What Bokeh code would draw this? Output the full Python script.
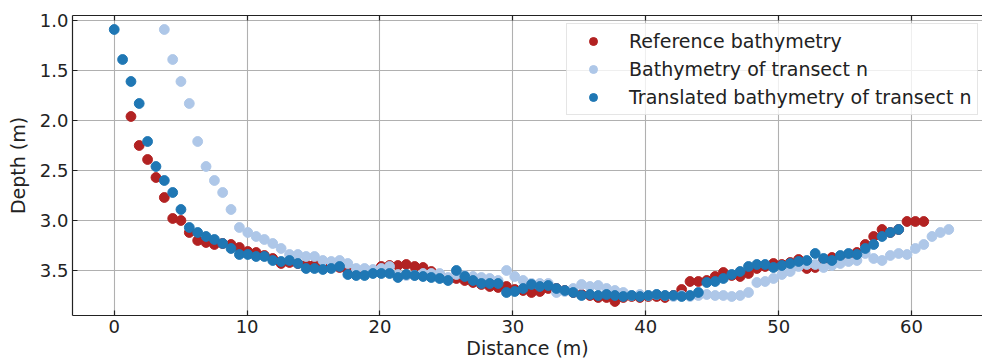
from bokeh.plotting import figure
from bokeh.models import (Range1d, LinearAxis, SingleIntervalTicker,
                          PrintfTickFormatter, Legend, LegendItem)
from bokeh.embed import file_html
from bokeh.resources import INLINE

# Survey stations along the cross-section (m)
stations = [
    0.00, 0.63, 1.26, 1.88, 2.51, 3.14, 3.77, 4.40, 5.02, 5.65,
    6.28, 6.91, 7.54, 8.16, 8.79, 9.42, 10.05, 10.68, 11.30, 11.93,
    12.56, 13.19, 13.82, 14.44, 15.07, 15.70, 16.33, 16.96, 17.58, 18.21,
    18.84, 19.47, 20.10, 20.72, 21.35, 21.98, 22.61, 23.24, 23.86, 24.49,
    25.12, 25.75, 26.38, 27.00, 27.63, 28.26, 28.89, 29.52, 30.14, 30.77,
    31.40, 32.03, 32.66, 33.28, 33.91, 34.54, 35.17, 35.80, 36.42, 37.05,
    37.68, 38.31, 38.94, 39.56, 40.19, 40.82, 41.45, 42.08, 42.70, 43.33,
    43.96, 44.59, 45.22, 45.84, 46.47, 47.10, 47.73, 48.36, 48.98, 49.61,
    50.24, 50.87, 51.50, 52.12, 52.75, 53.38, 54.01, 54.64, 55.26, 55.89,
    56.52, 57.15, 57.78, 58.40, 59.03, 59.66, 60.29, 60.92, 61.54, 62.17,
    62.80,
]

# Reference bathymetry: stations 2..97
reference_dist = stations[2:98]
reference_depth = [
    1.96, 2.25, 2.39, 2.57, 2.77, 2.98, 3.00, 3.12, 3.20, 3.22,
    3.24, 3.23, 3.24, 3.27, 3.31, 3.32, 3.35, 3.38, 3.43, 3.42,
    3.43, 3.44, 3.44, 3.45, 3.46, 3.47, 3.50, 3.52, 3.52, 3.50,
    3.46, 3.45, 3.45, 3.44, 3.46, 3.47, 3.51, 3.55, 3.58, 3.58,
    3.60, 3.62, 3.64, 3.66, 3.67, 3.66, 3.69, 3.70, 3.72, 3.71,
    3.68, 3.68, 3.70, 3.72, 3.74, 3.75, 3.77, 3.77, 3.81, 3.77,
    3.76, 3.77, 3.76, 3.76, 3.77, 3.75, 3.69, 3.61, 3.61, 3.60,
    3.56, 3.52, 3.55, 3.56, 3.53, 3.48, 3.46, 3.43, 3.44, 3.42,
    3.39, 3.48, 3.47, 3.40, 3.37, 3.36, 3.34, 3.32, 3.24, 3.16,
    3.09, 3.12, 3.09, 3.01, 3.01, 3.01,
]

# Depths measured along transect n (one value per station)
transect_depth = [
    1.09, 1.39, 1.61, 1.83, 2.21, 2.46, 2.60, 2.72, 2.89, 3.07,
    3.12, 3.16, 3.19, 3.23, 3.28, 3.34, 3.34, 3.36, 3.36, 3.40,
    3.41, 3.40, 3.43, 3.48, 3.48, 3.49, 3.48, 3.46, 3.54, 3.55,
    3.55, 3.53, 3.53, 3.53, 3.57, 3.54, 3.55, 3.56, 3.57, 3.58,
    3.60, 3.50, 3.56, 3.60, 3.63, 3.63, 3.63, 3.72, 3.71, 3.68,
    3.64, 3.66, 3.65, 3.68, 3.70, 3.72, 3.75, 3.74, 3.75, 3.74,
    3.75, 3.76, 3.75, 3.76, 3.75, 3.74, 3.75, 3.75, 3.76, 3.75,
    3.72, 3.62, 3.61, 3.58, 3.54, 3.51, 3.46, 3.44, 3.44, 3.47,
    3.45, 3.43, 3.41, 3.40, 3.33, 3.38, 3.40, 3.35, 3.33, 3.34,
    3.28, 3.24, 3.16, 3.12, 3.09,
]
# Raw transect positions (stations 6..100) and after translation (0..94)
transect_dist = stations[6:101]
translated_dist = stations[0:95]

RED = "#b22222"
LIGHT_BLUE = "#aec7e8"
BLUE = "#1f77b4"
FONT = "DejaVu Sans"
INK = "#222222"

p = figure(width=982, height=362, output_backend="svg", toolbar_location=None,
           x_range=Range1d(-3.14, 65.34), y_range=Range1d(3.95, 0.95),
           min_border_left=72, min_border_right=0, min_border_top=15,
           min_border_bottom=47)
p.outline_line_color = None
p.background_fill_color = "white"
p.border_fill_color = "white"

r_ref = p.scatter(reference_dist, reference_depth, size=9.8, color=RED)
r_raw = p.scatter(transect_dist, transect_depth, size=9.8, color=LIGHT_BLUE)
r_tr = p.scatter(translated_dist, transect_depth, size=9.8, color=BLUE)

xt = SingleIntervalTicker(interval=10, num_minor_ticks=0)
yt = SingleIntervalTicker(interval=0.5, num_minor_ticks=0)

bottom = p.below[0]
left = p.left[0]
bottom.ticker = xt
left.ticker = yt
left.formatter = PrintfTickFormatter(format="%.1f")
p.xgrid.ticker = xt
p.ygrid.ticker = yt

# Frame top edge with inward ticks, no labels
top = LinearAxis(ticker=xt, major_label_text_font_size="0px",
                 major_label_standoff=0, major_label_text_color=None)
p.add_layout(top, "above")

for ax in (bottom, left, top):
    ax.major_tick_in = 5
    ax.major_tick_out = 0
    ax.minor_tick_in = 0
    ax.minor_tick_out = 0
    ax.axis_line_color = INK
    ax.axis_line_width = 1.2
    ax.major_tick_line_color = INK
    ax.major_tick_line_width = 1.2
for ax in (bottom, left):
    ax.major_label_text_font = FONT
    ax.major_label_text_font_size = "18px"
    ax.major_label_text_color = INK
    ax.axis_label_text_font = FONT
    ax.axis_label_text_font_size = "19px"
    ax.axis_label_text_font_style = "normal"
    ax.axis_label_text_color = INK
    ax.major_label_standoff = 4

bottom.axis_label = "Distance (m)"
left.axis_label = "Depth (m)"
bottom.axis_label_standoff = 1
left.axis_label_standoff = 8

p.grid.grid_line_color = "#b0b0b0"
p.grid.grid_line_width = 1.1

legend = Legend(items=[
    LegendItem(label="Reference bathymetry", renderers=[r_ref]),
    LegendItem(label="Bathymetry of transect n", renderers=[r_raw]),
    LegendItem(label="Translated bathymetry of transect n", renderers=[r_tr]),
], location=(494, 200))
legend.label_text_font = FONT
legend.label_text_font_size = "19px"
legend.label_text_color = INK
legend.padding = 6
legend.spacing = 6
legend.glyph_width = 40
legend.glyph_height = 20
legend.label_height = 20
legend.label_standoff = 16
legend.border_line_color = "#cccccc"
legend.border_line_width = 1
legend.background_fill_alpha = 0.8
legend.margin = 0
p.add_layout(legend)

open("out.html", "w").write(file_html(p, INLINE))
